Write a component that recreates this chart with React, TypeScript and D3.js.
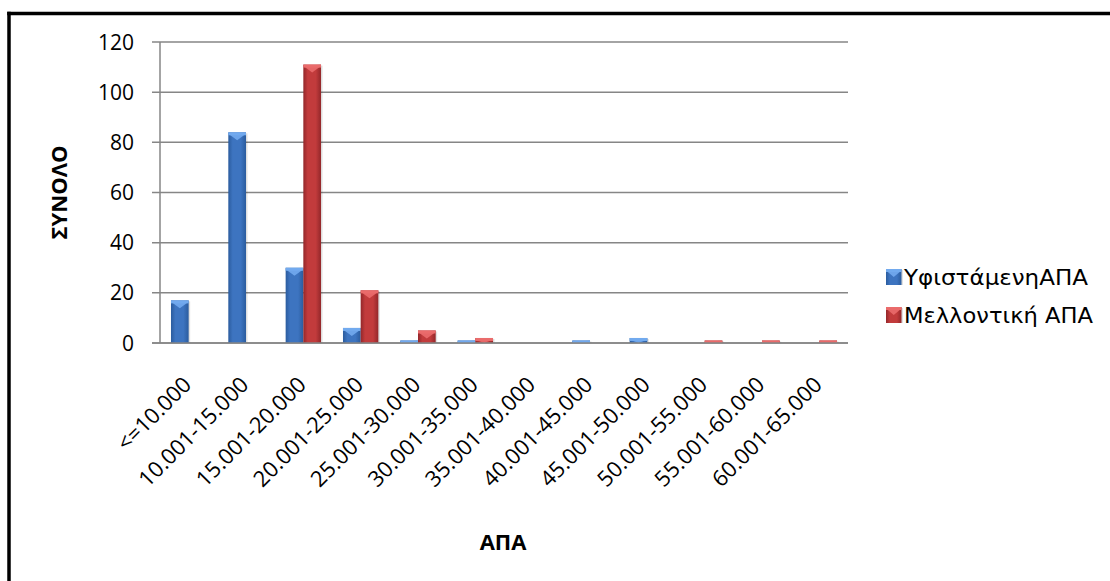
import React from "react";
import * as d3 from "d3";

const categories = [
  "<=10.000", "10.001-15.000", "15.001-20.000", "20.001-25.000", "25.001-30.000",
  "30.001-35.000", "35.001-40.000", "40.001-45.000", "45.001-50.000",
  "50.001-55.000", "55.001-60.000", "60.001-65.000",
];
const seriesNames = ["ΥφιστάμενηΑΠΑ", "Μελλοντική ΑΠΑ"];
const existingValues = [17, 84, 30, 6, 1, 1, 0, 1, 2, 0, 0, 0];
const futureValues = [0, 0, 111, 21, 5, 2, 0, 0, 0, 1, 1, 1];
const yTicks = [0, 20, 40, 60, 80, 100, 120];

const W = 1110;
const H = 581;
const plot = { left: 160, right: 848, top: 42, bottom: 343 };
const FONT = "'Open Sans', 'Noto Sans', sans-serif";
const LEGEND_FONT = "'DejaVu Sans', 'Open Sans', sans-serif";

const palettes = [
  { id: "gBlue", edge: "#2b5c9e", mid: "#3d74c0", light: "#72aaee", top: "#8cbcf2" },
  { id: "gRed", edge: "#93272a", mid: "#c23b3c", light: "#ea6c6c", top: "#f08a8a" },
];

function Bar({ x, y, w, h, p }: { x: number; y: number; w: number; h: number; p: typeof palettes[0] }) {
  if (h <= 0) return null;
  const tri = Math.min(8, h);
  const band = Math.min(3, h);
  return (
    <g>
      <rect x={x + 1.5} y={y + 1} width={w} height={h - 1} fill="#000" opacity={0.12} />
      <rect x={x} y={y} width={w} height={h} fill={`url(#${p.id})`} />
      <rect x={x} y={y} width={w} height={band} fill={p.light} />
      <polygon points={`${x},${y + band * 0.5} ${x + w},${y + band * 0.5} ${x + w / 2},${y + tri}`} fill={p.light} opacity={0.9} />
    </g>
  );
}

export default function App() {
  const x0 = d3
    .scaleBand<string>()
    .domain(categories)
    .range([plot.left, plot.right])
    .paddingInner(0.383)
    .paddingOuter(0.383 / 2);
  const x1 = d3.scaleBand<string>().domain(seriesNames).range([0, x0.bandwidth()]);
  const y = d3.scaleLinear().domain([0, 120]).range([plot.bottom, plot.top]);
  const seriesValues = [existingValues, futureValues];
  const legendWidths = [184, 189];

  return (
    <svg width={W} height={H} style={{ position: "absolute", left: 0, top: 0, background: "#fff", overflow: "hidden" }}>
      <defs>
        {palettes.map((p) => (
          <linearGradient key={p.id} id={p.id} x1="0" x2="1" y1="0" y2="0">
            <stop offset="0%" stopColor={p.edge} />
            <stop offset="25%" stopColor={p.mid} />
            <stop offset="70%" stopColor={p.mid} />
            <stop offset="100%" stopColor={p.edge} />
          </linearGradient>
        ))}
      </defs>
      <rect x={0} y={0} width={W} height={H} fill="#fff" />
      {/* frame (right and bottom edges lie outside the picture) */}
      <line x1={7.2} x2={W} y1={13.5} y2={13.5} stroke="#000" strokeWidth={3.5} />
      <line x1={9} x2={9} y1={11.7} y2={H} stroke="#000" strokeWidth={3.5} />

      {/* gridlines */}
      {yTicks.map((t) => (
        <line key={t} x1={plot.left - 8} x2={plot.right} y1={y(t)} y2={y(t)} stroke="#868686" strokeWidth={1.5} />
      ))}
      <line x1={plot.left} x2={plot.left} y1={plot.top} y2={plot.bottom} stroke="#868686" strokeWidth={1.5} />

      {/* y tick labels */}
      {yTicks.map((t) => (
        <text key={t} x={134} y={y(t)} dy="0.36em" textAnchor="end" fontFamily={FONT} fontSize={21} fill="#000">
          {t}
        </text>
      ))}

      {/* bars */}
      {categories.map((c, i) => (
        <g key={c}>
          {seriesNames.map((s, si) => {
            const v = seriesValues[si][i];
            const bx = (x0(c) as number) + (x1(s) as number);
            return <Bar key={s} x={bx} y={y(v)} w={x1.bandwidth()} h={y(0) - y(v)} p={palettes[si]} />;
          })}
        </g>
      ))}
      <line x1={plot.left - 8} x2={plot.right} y1={plot.bottom} y2={plot.bottom} stroke="#868686" strokeWidth={1.5} />

      {/* x labels */}
      {categories.map((c) => {
        const cx = (x0(c) as number) + x0.bandwidth() / 2;
        const ex = cx + 4;
        const ey = 386;
        return (
          <text key={c} x={ex} y={ey} textAnchor="end" transform={`rotate(-45 ${ex} ${ey})`} fontFamily={FONT} fontSize={22} fill="#000">
            {c}
          </text>
        );
      })}

      {/* axis titles */}
      <text x={503} y={550} textAnchor="middle" fontFamily={FONT} fontSize={22} fontWeight="bold" fill="#000">
        ΑΠΑ
      </text>
      <text transform={`translate(67 ${(plot.top + plot.bottom) / 2}) rotate(-90)`} textAnchor="middle" fontFamily={FONT} fontSize={22} fontWeight="bold" fill="#000">
        ΣΥΝΟΛΟ
      </text>

      {/* legend */}
      {seriesNames.map((s, i) => {
        const ly = 269 + i * 38;
        return (
          <g key={s}>
            <Bar x={886} y={ly} w={15.5} h={16} p={palettes[i]} />
            <text x={904} y={ly + 16} fontFamily={LEGEND_FONT} fontSize={22} fill="#000" textLength={legendWidths[i]} lengthAdjust="spacingAndGlyphs">
              {s}
            </text>
          </g>
        );
      })}
    </svg>
  );
}
